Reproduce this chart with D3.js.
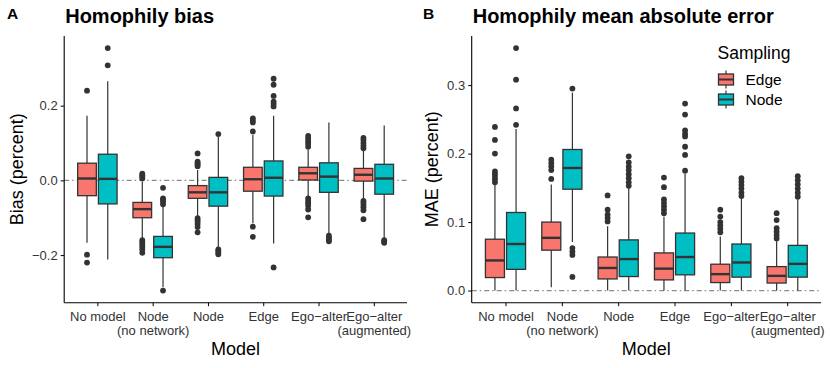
<!DOCTYPE html>
<html>
<head>
<meta charset="utf-8">
<script src="https://cdn.jsdelivr.net/npm/d3@7"></script>
<style>
  body { margin: 0; background: #fff; }
  text { font-family: "Liberation Sans", Arial, sans-serif; }
</style>
</head>
<body>
<div id="chart"></div>
<script>
// categories
const models = ["No model", "Node\n(no network)", "Node", "Edge", "Ego\u2212alter", "Ego\u2212alter\n(augmented)"];
const sampling = ["Edge", "Node"];
const colors = ["#F8766D", "#00BFC4"];

// box stats per model: [lower whisker, q1, median, q3, upper whisker]
const biasEdge = [
  [-0.167, -0.041, 0.005, 0.046, 0.173],
  [-0.156, -0.100, -0.077, -0.059, -0.004],
  [-0.098, -0.048, -0.032, -0.014, 0.028],
  [-0.115, -0.029, 0.003, 0.035, 0.122],
  [-0.044, 0.001, 0.019, 0.035, 0.081],
  [-0.053, -0.002, 0.015, 0.032, 0.080]
];
const biasNode = [
  [-0.212, -0.063, 0.004, 0.070, 0.265],
  [-0.286, -0.207, -0.178, -0.150, -0.071],
  [-0.183, -0.069, -0.032, 0.008, 0.117],
  [-0.169, -0.042, 0.007, 0.052, 0.173],
  [-0.144, -0.032, 0.010, 0.047, 0.155],
  [-0.156, -0.037, 0.005, 0.043, 0.147]
];
const biasEdgeOut = [
  [0.240, -0.199, -0.220],
  [0.005, 0.010, 0.014, 0.018, -0.160, -0.166, -0.172, -0.178, -0.185, -0.194],
  [0.072, 0.050, 0.046, 0.042, 0.038, -0.101, -0.106, -0.111, -0.117, -0.125, -0.139],
  [0.166, 0.160, 0.155, 0.131, -0.124, -0.151],
  [0.119, 0.112, 0.105, 0.098, 0.090, -0.048, -0.055, -0.061, -0.068, -0.078, -0.099],
  [0.114, 0.108, 0.100, 0.093, 0.086, -0.055, -0.060, -0.066, -0.072, -0.080, -0.104]
];
const biasNodeOut = [
  [0.354, 0.308],
  [-0.020, -0.048, -0.052, -0.057, -0.064, -0.295],
  [0.124, -0.185, -0.189, -0.193, -0.198],
  [0.272, 0.256, 0.226, 0.211, 0.205, 0.198, -0.233],
  [-0.148, -0.153, -0.158, -0.163],
  [-0.160, -0.164, -0.167]
];

const maeEdge = [
  [0, 0.019, 0.044, 0.075, 0.155],
  [0.005, 0.059, 0.077, 0.100, 0.155],
  [0, 0.017, 0.033, 0.049, 0.094],
  [0, 0.0156, 0.032, 0.055, 0.108],
  [0, 0.0117, 0.024, 0.0385, 0.079],
  [0, 0.011, 0.0215, 0.035, 0.072]
];
const maeNode = [
  [0, 0.031, 0.068, 0.114, 0.236],
  [0.071, 0.148, 0.179, 0.206, 0.289],
  [0, 0.0205, 0.046, 0.074, 0.150],
  [0, 0.023, 0.049, 0.084, 0.171],
  [0, 0.0196, 0.041, 0.068, 0.135],
  [0, 0.0196, 0.039, 0.066, 0.133]
];
const maeEdgeOut = [
  [0.239, 0.220, 0.200, 0.174, 0.170, 0.166, 0.162, 0.158],
  [0.191, 0.186, 0.181, 0.176, 0.163],
  [0.139, 0.118, 0.111, 0.106, 0.101],
  [0.165, 0.151, 0.133, 0.128, 0.123, 0.118, 0.113],
  [0.118, 0.108, 0.100, 0.095, 0.090, 0.085],
  [0.113, 0.103, 0.091, 0.086, 0.081, 0.076]
];
const maeNodeOut = [
  [0.354, 0.308, 0.266, 0.242],
  [0.295, 0.062, 0.057, 0.052, 0.020],
  [0.196, 0.187, 0.181, 0.176, 0.170, 0.164, 0.158, 0.153],
  [0.273, 0.257, 0.234, 0.229, 0.225, 0.210, 0.198, 0.175],
  [0.164, 0.159, 0.154, 0.149, 0.143, 0.138],
  [0.167, 0.161, 0.155, 0.149, 0.143, 0.137]
];

const biasTicks = [-0.2, 0.0, 0.2];
const maeTicks = [0.0, 0.1, 0.2, 0.3];

const svg = d3.select('#chart').append('svg')
  .attr('width', 830)
  .attr('height', 368);

function drawPanel(p) {
  const g = svg.append('g');
  const all = [].concat(...p.stats.flat(), ...p.outliers.flat(2));
  const [lo, hi] = d3.extent(all);
  const pad = (hi - lo) * 0.05;
  const y = d3.scaleLinear().domain([lo - pad, hi + pad]).range([p.bottom, p.top]);
  const x = d3.scalePoint().domain(models).range([p.left, p.right]).padding(0.6);
  const step = x.step();
  const sub = d3.scaleBand().domain(sampling).range([-0.375 * step, 0.375 * step]);
  const bw = sub.bandwidth() * 0.9;

  // zero reference line
  g.append('line')
    .attr('x1', p.left).attr('x2', p.right)
    .attr('y1', y(0)).attr('y2', y(0))
    .attr('stroke', '#8a8a8a').attr('stroke-width', 1.1)
    .attr('stroke-dasharray', '5,3,1.5,3');

  sampling.forEach((s, si) => {
    models.forEach((m, mi) => {
      const st = p.stats[si][mi];
      const cx = x(m) + sub(s) + sub.bandwidth() / 2;
      const bg = g.append('g');
      bg.append('line')
        .attr('x1', cx).attr('x2', cx)
        .attr('y1', y(st[0])).attr('y2', y(st[4]))
        .attr('stroke', '#333').attr('stroke-width', 1.2);
      bg.append('rect')
        .attr('x', cx - bw / 2).attr('width', bw)
        .attr('y', y(st[3])).attr('height', y(st[1]) - y(st[3]))
        .attr('fill', colors[si])
        .attr('stroke', '#333').attr('stroke-width', 1.3);
      bg.append('line')
        .attr('x1', cx - bw / 2).attr('x2', cx + bw / 2)
        .attr('y1', y(st[2])).attr('y2', y(st[2]))
        .attr('stroke', '#333').attr('stroke-width', 2.4);
      bg.selectAll('circle')
        .data(p.outliers[si][mi])
        .join('circle')
        .attr('cx', cx)
        .attr('cy', d => y(d))
        .attr('r', 2.9)
        .attr('fill', '#333');
    });
  });

  // axes
  const ya = g.append('g')
    .attr('transform', `translate(${p.left},0)`)
    .call(d3.axisLeft(y).tickValues(p.ticks).tickSize(3.5).tickPadding(3).tickFormat(d3.format('.1f')));
  ya.select('.domain').attr('d', `M0,${p.top}V${p.bottom}`).attr('stroke', '#000').attr('stroke-width', 1.1);
  ya.selectAll('.tick text').attr('font-size', 13).attr('fill', '#333')
    .attr('font-family', '"Liberation Sans", Arial, sans-serif');

  const xa = g.append('g')
    .attr('transform', `translate(0,${p.bottom})`)
    .call(d3.axisBottom(x).tickSize(3.5).tickPadding(3));
  xa.select('.domain').attr('d', `M${p.left},0H${p.right}`).attr('stroke', '#000').attr('stroke-width', 1.1);
  xa.selectAll('.tick text').each(function(d) {
    const t = d3.select(this).text(null)
      .attr('font-size', 13).attr('fill', '#333')
      .attr('font-family', '"Liberation Sans", Arial, sans-serif')
      .attr('y', 18).attr('dy', null);
    d.split('\n').forEach((line, i) => {
      t.append('tspan').attr('x', 0).attr('dy', i === 0 ? 0 : 14.3).text(line);
    });
  });

  // titles
  const cx = (p.left + p.right) / 2;
  g.append('text').attr('x', cx).attr('y', 355)
    .attr('text-anchor', 'middle').attr('font-size', 18).attr('fill', '#000').text('Model');
  g.append('text')
    .attr('transform', `translate(${p.yTitleX},${(p.top + p.bottom) / 2}) rotate(-90)`)
    .attr('text-anchor', 'middle').attr('font-size', 18).attr('fill', '#000').text(p.yTitle);
  g.append('text').attr('x', p.left + 1).attr('y', 23)
    .attr('font-size', 20).attr('font-weight', 'bold').attr('fill', '#000').text(p.title);
  g.append('text').attr('x', p.tagX).attr('y', 18.5)
    .attr('font-size', 15.5).attr('font-weight', 'bold').attr('fill', '#000').text(p.tag);
}

drawPanel({
  left: 64.2, right: 407, top: 36, bottom: 302.7,
  stats: [biasEdge, biasNode], outliers: [biasEdgeOut, biasNodeOut],
  ticks: biasTicks, yTitle: 'Bias (percent)', yTitleX: 23,
  title: 'Homophily bias', tag: 'A', tagX: 7
});

drawPanel({
  left: 471.7, right: 821, top: 36, bottom: 302.7,
  stats: [maeEdge, maeNode], outliers: [maeEdgeOut, maeNodeOut],
  ticks: maeTicks, yTitle: 'MAE (percent)', yTitleX: 438,
  title: 'Homophily mean absolute error', tag: 'B', tagX: 423
});

// legend
const legend = svg.append('g').attr('transform', 'translate(717.5,0)');
legend.append('text').attr('x', 0).attr('y', 59)
  .attr('font-size', 17.5).attr('fill', '#000').text('Sampling');
sampling.forEach((s, i) => {
  const ky = 79.5 + i * 20;
  const k = legend.append('g').attr('transform', `translate(0,${ky})`);
  k.append('line').attr('x1', 8.5).attr('x2', 8.5).attr('y1', -9).attr('y2', 9)
    .attr('stroke', '#333').attr('stroke-width', 1.2);
  k.append('rect').attr('x', 1).attr('y', -5.5).attr('width', 15).attr('height', 11)
    .attr('fill', colors[i]).attr('stroke', '#333').attr('stroke-width', 1.3);
  k.append('line').attr('x1', 1).attr('x2', 16).attr('y1', 0).attr('y2', 0)
    .attr('stroke', '#333').attr('stroke-width', 2);
  legend.append('text').attr('x', 28).attr('y', ky + 5.5)
    .attr('font-size', 15.5).attr('fill', '#000').text(s);
});
</script>
</body>
</html>
